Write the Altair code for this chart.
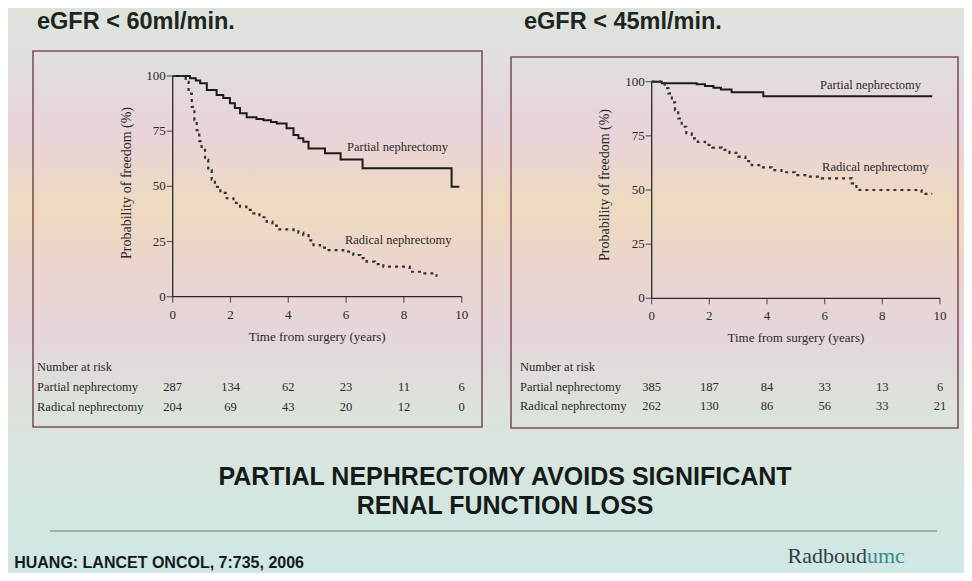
import altair as alt
import pandas as pd

# ---------------- data ----------------
panel_titles = ["eGFR < 60ml/min.", "eGFR < 45ml/min."]
series_names = ["Partial nephrectomy", "Radical nephrectomy"]

# eGFR < 60 panel
left_partial_t = [0, 0.6, 0.8, 0.95, 1.18, 1.52, 1.75, 1.98, 2.15, 2.33, 2.56, 2.9, 3.14, 3.4,
                  3.6, 3.94, 4.18, 4.35, 4.52, 4.7, 5.27, 5.81, 6.57, 9.65, 9.92]
left_partial_p = [100, 99, 98, 96.7, 93.7, 91.4, 90, 87.6, 85.5, 83.1, 81.3, 80.5, 80, 79.2,
                  78.5, 76.3, 73.3, 71.8, 70.2, 67.2, 65, 62.2, 58.2, 49.8, 49.8]
left_radical_t = [0, 0.45, 0.55, 0.66, 0.75, 0.83, 0.92, 1.0, 1.12, 1.23, 1.35, 1.46, 1.65, 1.87,
                  2.1, 2.33, 2.55, 2.79, 3.0, 3.25, 3.45, 3.6, 4.18, 4.35, 4.52, 4.7, 4.87, 5.1,
                  5.33, 5.9, 6.25, 6.5, 6.71, 7.0, 7.29, 7.75, 8.2, 8.67, 9.13, 9.15]
left_radical_p = [100, 97.4, 92, 86, 80, 75.5, 70.5, 66.5, 62, 57.4, 53, 49.8, 47, 44.6,
                  42.5, 40.8, 39.3, 37.8, 36, 34, 32.2, 30.5, 30.2, 29, 27.9, 25.5, 23.4, 22.2,
                  21.1, 20.4, 18.9, 17.5, 15.9, 14.8, 13.6, 13.6, 11.3, 10.6, 9.4, 9.4]
left_risk_partial = [287, 134, 62, 23, 11, 6]
left_risk_radical = [204, 69, 43, 20, 12, 0]

# eGFR < 45 panel
right_partial_t = [0, 0.35, 1.56, 1.85, 2.14, 2.4, 2.77, 3.87, 9.73]
right_partial_p = [100, 99.3, 98.8, 98.0, 97.2, 96.4, 95.1, 93.3, 93.3]
right_radical_t = [0, 0.3, 0.45, 0.58, 0.7, 0.81, 0.92, 1.04, 1.2, 1.39, 1.6, 1.85, 2.1, 2.43,
                   2.7, 3.0, 3.25, 3.47, 3.8, 4.16, 4.5, 4.97, 5.4, 5.9, 6.47, 6.94, 7.1, 9.25,
                   9.36, 9.73]
right_radical_p = [100, 99.2, 97, 94.6, 90.5, 86.9, 83, 79.2, 76.2, 73.8, 72.2, 70.8, 69.6, 68.5,
                   67.1, 65.4, 63.3, 61.5, 60.4, 59.2, 58.2, 56.9, 56.2, 55.4, 55.4, 53.1, 50, 50,
                   48.2, 48.2]
right_risk_partial = [385, 187, 84, 33, 13, 6]
right_risk_radical = [262, 130, 86, 56, 33, 21]

x_ticks = [0, 2, 4, 6, 8, 10]
y_ticks = [0, 25, 50, 75, 100]
risk_times = [0, 2, 4, 6, 8, 10]
x_title = "Time from surgery (years)"
y_title = "Probability of freedom (%)"
risk_header = "Number at risk"

headline = ["PARTIAL NEPHRECTOMY AVOIDS SIGNIFICANT", "RENAL FUNCTION LOSS"]
source_note = ["HUANG: LANCET ONCOL, 7:735, 2006"]
logo_parts = ["Radboud", "umc"]

# ---------------- layout / style ----------------
W, H = 956, 565
SERIF = "Liberation Serif"
SANS = "Liberation Sans"
INK = "#2a2a2a"
BOX = "#7d5358"

LEFT = dict(x0=164.7, x10=453.7, y100=68.0, y0=288.7, box=(25, 43, 474, 419),
            title_x=29, lab_partial=(6.03, 67.8), lab_radical=(5.96, 25.7),
            ytitle_x=119, ytitle_y=175, xtitle_y=329, table_x=29, rows_y=(359, 379, 399))
RIGHT = dict(x0=643.7, x10=932.0, y100=73.7, y0=290.3, box=(503, 49, 950, 420),
             title_x=516, lab_partial=(5.84, 98.5), lab_radical=(5.91, 60.6),
             ytitle_x=597, ytitle_y=177, xtitle_y=330, table_x=512, rows_y=(359, 379, 398))

one = pd.DataFrame({"k": [0]})


def panel(cfg, pt, pp, rt, rp, risk_p, risk_r):
    ppx = (cfg["x10"] - cfg["x0"]) / 10.0
    ppy = (cfg["y0"] - cfg["y100"]) / 100.0
    xs = alt.Scale(domain=[-cfg["x0"] / ppx, (W - cfg["x0"]) / ppx], nice=False, zero=False)
    ys = alt.Scale(domain=[-(H - cfg["y0"]) / ppy, 100 + cfg["y100"] / ppy], nice=False, zero=False)

    def X(f):
        return alt.X(f, scale=xs, axis=None)

    def Y(f):
        return alt.Y(f, scale=ys, axis=None)

    partial_df = pd.DataFrame({"t": pt, "p": pp})
    radical_df = pd.DataFrame({"t": rt, "p": rp})

    solid = alt.Chart(partial_df).mark_line(interpolate="step-after", color="#1c1c1c",
                                            strokeWidth=2).encode(x=X("t:Q"), y=Y("p:Q"))
    dashed = alt.Chart(radical_df).mark_line(interpolate="step-after", color="#333333",
                                             strokeWidth=2.2, strokeDash=[3, 4]).encode(
        x=X("t:Q"), y=Y("p:Q"))

    # axis lines
    axis_df = pd.DataFrame({"t": [x_ticks[0], x_ticks[0]], "t2": [x_ticks[-1], x_ticks[0]],
                            "p": [y_ticks[0], y_ticks[0]], "p2": [y_ticks[0], y_ticks[-1]]})
    axis_lines = alt.Chart(axis_df).mark_rule(color=INK, strokeWidth=1.3).encode(
        x=X("t:Q"), x2="t2:Q", y=Y("p:Q"), y2="p2:Q")

    # ticks and tick labels
    xt_df = pd.DataFrame({"t": x_ticks, "p": [y_ticks[0]] * len(x_ticks),
                          "lab": [str(v) for v in x_ticks]})
    yt_df = pd.DataFrame({"t": [x_ticks[0]] * len(y_ticks), "p": y_ticks,
                          "lab": [str(v) for v in y_ticks]})
    xticks = alt.Chart(xt_df).mark_tick(orient="vertical", size=6, thickness=1.2, color=INK,
                                        yOffset=3).encode(x=X("t:Q"), y=Y("p:Q"))
    yticks = alt.Chart(yt_df).mark_tick(orient="horizontal", size=6, thickness=1.2, color=INK,
                                        xOffset=-3).encode(x=X("t:Q"), y=Y("p:Q"))
    xlabels = alt.Chart(xt_df).mark_text(baseline="top", align="center", dy=12, font=SERIF,
                                         fontSize=13, color=INK).encode(
        x=X("t:Q"), y=Y("p:Q"), text="lab:N")
    ylabels = alt.Chart(yt_df).mark_text(baseline="middle", align="right", dx=-7, font=SERIF,
                                         fontSize=13, color=INK).encode(
        x=X("t:Q"), y=Y("p:Q"), text="lab:N")

    # axis titles
    xtitle = alt.Chart(pd.DataFrame({"t": [(x_ticks[0] + x_ticks[-1]) / 2], "txt": [x_title]})
                       ).mark_text(baseline="middle", align="center", font=SERIF, fontSize=13,
                                   color=INK).encode(
        x=X("t:Q"), y=alt.value(cfg["xtitle_y"]), text="txt:N")
    ytitle = alt.Chart(pd.DataFrame({"txt": [y_title]})).mark_text(
        baseline="middle", align="center", angle=270, font=SERIF, fontSize=14,
        color=INK).encode(x=alt.value(cfg["ytitle_x"]), y=alt.value(cfg["ytitle_y"]),
                          text="txt:N")

    # curve labels
    lab_df = pd.DataFrame({"t": [cfg["lab_partial"][0], cfg["lab_radical"][0]],
                           "p": [cfg["lab_partial"][1], cfg["lab_radical"][1]],
                           "txt": series_names})
    labels = alt.Chart(lab_df).mark_text(align="left", baseline="middle", font=SERIF,
                                         fontSize=12.5, color=INK).encode(
        x=X("t:Q"), y=Y("p:Q"), text="txt:N")

    # number at risk table
    rows = []
    for vals, ry in ((risk_p, cfg["rows_y"][1]), (risk_r, cfg["rows_y"][2])):
        d = pd.DataFrame({"t": risk_times, "n": [str(v) for v in vals]})
        rows.append(alt.Chart(d).mark_text(align="center", baseline="middle", font=SERIF,
                                           fontSize=12.5, color=INK).encode(
            x=X("t:Q"), y=alt.value(ry), text="n:N"))
    row_labels = []
    for txt, ry in zip([risk_header] + series_names, cfg["rows_y"]):
        d = pd.DataFrame({"txt": [txt]})
        row_labels.append(alt.Chart(d).mark_text(align="left", baseline="middle", font=SERIF,
                                                 fontSize=12.5, color=INK).encode(
            x=alt.value(cfg["table_x"]), y=alt.value(ry), text="txt:N"))
    return alt.layer(axis_lines, xticks, yticks, xlabels, ylabels, xtitle, ytitle,
                     solid, dashed, labels, *rows, *row_labels)


# background gradient of the photographed slide
grad = alt.LinearGradient(
    gradient="linear", x1=0, x2=0, y1=0, y2=1,
    stops=[
        alt.GradientStop(offset=0.0, color="#dde3dc"),
        alt.GradientStop(offset=0.09, color="#e1dfde"),
        alt.GradientStop(offset=0.22, color="#e8d3da"),
        alt.GradientStop(offset=0.35, color="#efdac0"),
        alt.GradientStop(offset=0.47, color="#ebd4cf"),
        alt.GradientStop(offset=0.58, color="#e5d6db"),
        alt.GradientStop(offset=0.71, color="#dce2da"),
        alt.GradientStop(offset=0.83, color="#d5e6df"),
        alt.GradientStop(offset=1.0, color="#cfe7e6"),
    ],
)
bg = alt.Chart(one).mark_rect(color=grad).encode(
    x=alt.value(0), x2=alt.value(W), y=alt.value(0), y2=alt.value(H))


def box(cfg):
    x1, y1, x2, y2 = cfg["box"]
    return alt.Chart(one).mark_rect(filled=False, color=BOX, strokeWidth=1.6).encode(
        x=alt.value(x1), x2=alt.value(x2), y=alt.value(y1), y2=alt.value(y2))


def title(cfg, txt):
    d = pd.DataFrame({"txt": [txt]})
    return alt.Chart(d).mark_text(align="left", baseline="alphabetic", font=SANS,
                                  fontSize=23.5, fontWeight="bold", color="#1d2620").encode(
        x=alt.value(cfg["title_x"]), y=alt.value(21), text="txt:N")


head_df = pd.DataFrame({"txt": headline})
head1 = alt.Chart(head_df.iloc[[0]]).mark_text(align="center", baseline="middle", font=SANS,
                                                fontSize=25, fontWeight="bold",
                                                color="#161a18").encode(
    x=alt.value(497), y=alt.value(469), text="txt:N")
head2 = alt.Chart(head_df.iloc[[1]]).mark_text(align="center", baseline="middle", font=SANS,
                                                fontSize=25, fontWeight="bold",
                                                color="#161a18").encode(
    x=alt.value(497), y=alt.value(498), text="txt:N")
sep = alt.Chart(one).mark_rule(color="#8c9c9a", strokeWidth=1.5).encode(
    x=alt.value(42), x2=alt.value(929), y=alt.value(523))
src = alt.Chart(pd.DataFrame({"txt": source_note})).mark_text(
    align="right", baseline="middle", font=SANS, fontSize=16, fontWeight="bold",
    color="#161a18").encode(x=alt.value(296), y=alt.value(555), text="txt:N")
logo1 = alt.Chart(pd.DataFrame({"txt": [logo_parts[0]]})).mark_text(
    align="right", baseline="middle", font=SERIF, fontSize=22, color="#34403f").encode(
    x=alt.value(859), y=alt.value(548), text="txt:N")
logo2 = alt.Chart(pd.DataFrame({"txt": [logo_parts[1]]})).mark_text(
    align="left", baseline="middle", font=SERIF, fontSize=22, color="#3f8a86").encode(
    x=alt.value(859), y=alt.value(548), text="txt:N")

left_panel = panel(LEFT, left_partial_t, left_partial_p, left_radical_t, left_radical_p,
                   left_risk_partial, left_risk_radical)
right_panel = panel(RIGHT, right_partial_t, right_partial_p, right_radical_t, right_radical_p,
                    right_risk_partial, right_risk_radical)

chart = alt.layer(
    bg, box(LEFT), box(RIGHT), left_panel, right_panel,
    title(LEFT, panel_titles[0]), title(RIGHT, panel_titles[1]),
    head1, head2, sep, src, logo1, logo2,
).resolve_scale(x="independent", y="independent").properties(
    width=W, height=H, padding=0, autosize=alt.AutoSizeParams(type="none"),
    background="#dde3dc",
).configure_view(strokeWidth=0)

chart.save("out.html", embed_options={"renderer": "svg", "actions": False})
